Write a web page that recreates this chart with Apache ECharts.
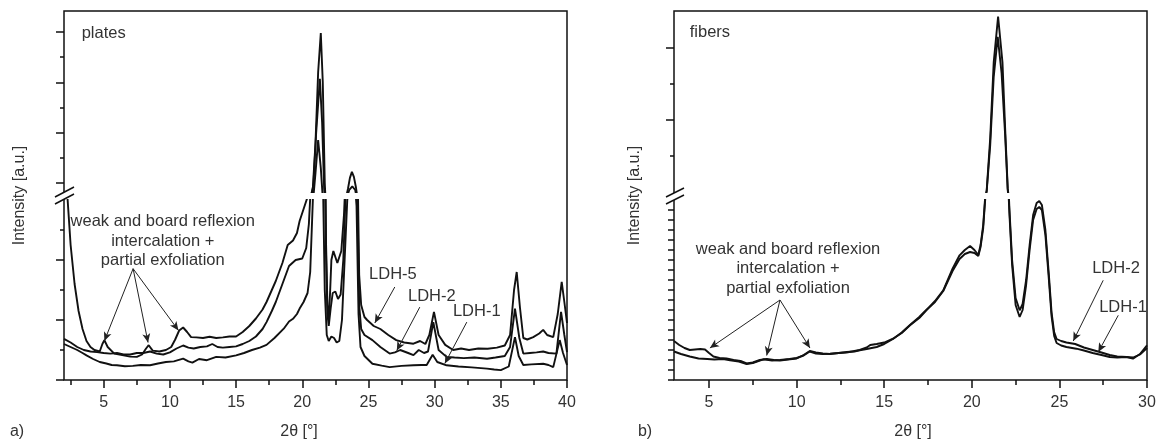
<!DOCTYPE html>
<html>
<head>
<meta charset="utf-8">
<script src="https://cdn.jsdelivr.net/npm/echarts@6/dist/echarts.min.js"></script>
<style>
html, body { margin: 0; padding: 0; background: #fff; }
#main { width: 1160px; height: 444px; }
</style>
</head>
<body>
<div id="main"></div>
<script>
// ---- data: [2theta, intensity] ----
// plates: lower part of the broken axis 0..6, upper part 8.2..44.2
var platesLdh5 = [[2.0, 7.5], [2.2, 6.5], [2.5, 4.5], [2.8, 3.2], [3.1, 2.3], [3.4, 1.7], [3.7, 1.3], [4.0, 1.1], [4.3, 1.0], [4.7, 0.95],
  [4.9, 1.2], [5.05, 1.33], [5.3, 1.1], [5.8, 0.88], [6.5, 0.82], [7.0, 0.78], [7.5, 0.77], [7.9, 0.85], [8.2, 1.05], [8.4, 1.16],
  [8.7, 0.98], [9.2, 0.95], [9.7, 1.0], [10.1, 1.1], [10.4, 1.35], [10.7, 1.65], [11.0, 1.75], [11.3, 1.6], [11.6, 1.43], [12.0, 1.42],
  [12.5, 1.4], [13.0, 1.44], [13.5, 1.4], [14.0, 1.42], [14.5, 1.45], [15.0, 1.45], [15.5, 1.6], [16.0, 1.8], [16.5, 2.05], [17.0, 2.35],
  [17.3, 2.6], [17.7, 3.0], [18.0, 3.3], [18.5, 3.9], [18.9, 4.5], [19.3, 4.65], [19.6, 4.9], [19.8, 5.3], [20.1, 5.7], [20.4, 6.1],
  [20.6, 7.0], [20.8, 9.0], [21.0, 18], [21.2, 32], [21.4, 39.8], [21.55, 30], [21.7, 10], [21.8, 4.5], [21.9, 2.5], [22.0, 2.0],
  [22.1, 2.9], [22.2, 4.0], [22.35, 4.3], [22.5, 4.25], [22.65, 3.9], [22.8, 3.95], [22.95, 4.3], [23.15, 5.5], [23.3, 7.0], [23.45, 8.8],
  [23.6, 11.0], [23.75, 12.2], [23.9, 11.2], [24.05, 9.2], [24.2, 6.5], [24.3, 3.5], [24.45, 2.5], [24.7, 2.1], [24.9, 2.0], [25.4, 1.8],
  [25.9, 1.7], [26.5, 1.5], [27.1, 1.33], [27.7, 1.25], [28.4, 1.21], [28.9, 1.3], [29.3, 1.2], [29.6, 1.5], [29.95, 2.27], [30.3, 1.5],
  [30.8, 1.17], [31.4, 1.0], [32.0, 1.05], [32.6, 1.0], [33.3, 1.05], [34.0, 1.04], [34.7, 1.08], [35.3, 1.15], [35.7, 1.5], [36.0, 3.0],
  [36.2, 3.6], [36.45, 2.4], [36.7, 1.4], [37.0, 1.35], [37.45, 1.43], [37.9, 1.55], [38.2, 1.67], [38.5, 1.5], [38.96, 1.43], [39.3, 2.2],
  [39.6, 3.27], [39.8, 2.6], [40.0, 1.9]];
var platesLdh2 = [[2.0, 1.37], [2.5, 1.25], [3.0, 1.1], [3.5, 1.0], [4.0, 0.95], [4.5, 0.93], [5.0, 0.9], [5.5, 0.88], [6.0, 0.9], [6.5, 0.85],
  [7.0, 0.85], [7.5, 0.9], [8.0, 0.9], [8.5, 0.95], [9.0, 0.88], [9.5, 0.85], [10.0, 0.92], [10.5, 1.05], [11.0, 1.15], [11.4, 1.08],
  [11.8, 1.05], [12.3, 1.1], [12.8, 1.12], [13.2, 1.2], [13.6, 1.1], [14.0, 1.08], [14.5, 1.1], [15.0, 1.12], [15.5, 1.2], [16.0, 1.3],
  [16.5, 1.45], [17.0, 1.7], [17.3, 1.93], [17.7, 2.3], [18.0, 2.6], [18.5, 3.2], [19.0, 3.8], [19.5, 4.0], [20.0, 4.05], [20.3, 4.4],
  [20.5, 5.2], [20.65, 6.5], [20.85, 10], [21.05, 20], [21.33, 30.7], [21.5, 22], [21.65, 9], [21.78, 4.5], [21.9, 2.2], [22.0, 1.8],
  [22.15, 2.4], [22.3, 2.9], [22.5, 2.95], [22.7, 2.7], [22.9, 2.85], [23.1, 4.0], [23.3, 6.5], [23.55, 8.6], [23.78, 9.3], [24.0, 8.6],
  [24.15, 6.5], [24.3, 2.5], [24.45, 1.7], [24.7, 1.5], [25.3, 1.33], [25.9, 1.1], [26.6, 0.88], [27.0, 0.92], [27.4, 1.0], [28.0, 0.9],
  [28.4, 0.83], [28.8, 1.0], [29.2, 0.9], [29.5, 0.95], [29.9, 1.93], [30.3, 1.0], [30.9, 0.77], [31.5, 0.75], [32.2, 0.73], [33.0, 0.75],
  [33.96, 0.71], [34.6, 0.75], [35.3, 0.8], [35.7, 1.1], [36.07, 2.38], [36.4, 1.4], [36.7, 0.88], [37.2, 0.9], [37.7, 0.92], [38.2, 0.95],
  [38.6, 0.9], [39.2, 0.88], [39.55, 2.27], [39.8, 1.5], [40.0, 0.93]];
var platesLdh1 = [[2.0, 1.2], [2.5, 1.1], [3.0, 1.0], [3.4, 0.9], [3.7, 0.82], [4.2, 0.7], [4.7, 0.6], [5.2, 0.55], [5.6, 0.5], [6.0, 0.49],
  [6.6, 0.46], [7.2, 0.47], [7.8, 0.5], [8.5, 0.49], [9.1, 0.55], [9.7, 0.6], [10.3, 0.62], [11.0, 0.71], [11.4, 0.62], [11.7, 0.58],
  [12.2, 0.7], [12.8, 0.66], [13.5, 0.77], [14.2, 0.75], [15.0, 0.82], [15.6, 0.9], [16.2, 1.0], [16.8, 1.08], [17.3, 1.17], [17.9, 1.4],
  [18.6, 1.71], [19.0, 1.95], [19.3, 2.04], [19.6, 2.2], [19.8, 2.38], [20.1, 2.6], [20.4, 2.9], [20.6, 3.6], [20.8, 6.0], [21.0, 12],
  [21.2, 18.5], [21.4, 13], [21.55, 7.0], [21.7, 3.0], [21.85, 1.5], [22.0, 1.3], [22.2, 1.45], [22.4, 1.4], [22.6, 1.25], [22.8, 1.3],
  [23.0, 2.0], [23.2, 4.0], [23.4, 6.0], [23.7, 7.2], [23.9, 7.0], [24.1, 5.8], [24.25, 2.2], [24.4, 1.1], [24.7, 0.8], [25.3, 0.54],
  [26.0, 0.48], [26.6, 0.43], [27.5, 0.47], [28.4, 0.49], [29.0, 0.5], [29.4, 0.5], [29.85, 0.84], [30.2, 0.6], [30.9, 0.49], [31.8, 0.45],
  [32.8, 0.42], [33.96, 0.38], [34.5, 0.35], [35.0, 0.33], [35.6, 0.45], [36.07, 1.43], [36.35, 0.8], [36.7, 0.5], [37.3, 0.52], [38.2, 0.54],
  [38.6, 0.5], [38.96, 0.43], [39.45, 1.33], [39.7, 0.9], [40.0, 0.5]];

// fibers: lower part 0..18, upper part 20..70.3
var fibersLdh2 = [[3.0, 3.9], [3.3, 3.5], [3.6, 3.2], [3.9, 3.0], [4.2, 3.05], [4.5, 3.1], [4.77, 3.05], [5.0, 2.7], [5.25, 2.35], [5.6, 2.2],
  [6.0, 2.15], [6.4, 2.0], [6.8, 1.9], [7.15, 1.65], [7.5, 1.75], [7.9, 2.0], [8.3, 2.1], [8.7, 2.0], [9.05, 1.95], [9.5, 2.05],
  [10.0, 2.15], [10.4, 2.5], [10.75, 2.9], [11.1, 2.75], [11.5, 2.65], [11.9, 2.6], [12.4, 2.7], [12.85, 2.75], [13.3, 2.9], [13.6, 3.0],
  [14.0, 3.25], [14.2, 3.5], [14.57, 3.6], [15.0, 3.75], [15.5, 4.13], [16.0, 4.7], [16.47, 5.47], [17.0, 6.2], [17.4, 6.97], [17.9, 7.9],
  [18.37, 8.97], [18.9, 11.13], [19.3, 12.47], [19.6, 13.0], [19.9, 13.4], [20.15, 13.0], [20.37, 12.5], [20.5, 13.5], [20.65, 15.5], [20.85, 20.5],
  [21.05, 35], [21.25, 56], [21.5, 68.7], [21.75, 56], [21.9, 38], [22.05, 21], [22.15, 17], [22.3, 12], [22.5, 8.2], [22.73, 6.97],
  [22.9, 7.6], [23.1, 10.0], [23.3, 13.5], [23.5, 16.5], [23.7, 17.7], [23.85, 17.9], [24.0, 17.5], [24.2, 15.0], [24.4, 10.5], [24.55, 6.8],
  [24.7, 4.8], [24.84, 4.1], [25.1, 3.9], [25.4, 3.75], [25.9, 3.6], [26.4, 3.25], [26.9, 3.0], [27.4, 2.75], [27.87, 2.5], [28.3, 2.35],
  [28.83, 2.3], [29.2, 2.25], [29.6, 2.55], [30.0, 3.2]];
var fibersLdh1 = [[3.0, 2.85], [3.4, 2.6], [3.9, 2.35], [4.4, 2.15], [4.9, 2.1], [5.3, 2.05], [5.8, 2.1], [6.2, 1.97], [6.7, 1.85], [7.15, 1.6],
  [7.5, 1.7], [8.1, 2.07], [8.6, 1.95], [9.05, 2.0], [9.6, 2.1], [10.0, 2.2], [10.4, 2.45], [10.75, 2.85], [11.1, 2.65], [11.5, 2.6],
  [11.9, 2.63], [12.4, 2.7], [12.85, 2.8], [13.3, 2.85], [13.6, 2.97], [14.0, 3.1], [14.57, 3.3], [15.0, 3.6], [15.5, 4.1], [16.0, 4.75],
  [16.47, 5.5], [17.0, 6.3], [17.4, 7.0], [17.9, 7.8], [18.37, 8.9], [18.9, 10.9], [19.3, 12.1], [19.6, 12.6], [19.9, 12.8], [20.15, 12.7],
  [20.37, 12.4], [20.5, 13.3], [20.65, 15.2], [20.85, 20.2], [21.05, 33], [21.25, 52], [21.48, 63.1], [21.7, 53], [21.9, 36], [22.05, 20.5],
  [22.15, 16.5], [22.3, 11.5], [22.5, 7.5], [22.73, 6.3], [22.9, 7.0], [23.1, 9.5], [23.3, 13.0], [23.5, 16.0], [23.7, 17.1], [23.85, 17.3],
  [24.0, 17.0], [24.2, 14.5], [24.4, 10.0], [24.55, 6.4], [24.7, 4.4], [24.84, 3.7], [25.1, 3.45], [25.4, 3.3], [25.97, 3.13], [26.4, 2.95],
  [26.9, 2.7], [27.4, 2.5], [27.87, 2.3], [28.3, 2.25], [28.83, 2.3], [29.2, 2.13], [29.6, 2.6], [30.0, 3.47]];

// tick values
var platesXMajor = [5, 10, 15, 20, 25, 30, 35, 40];
var platesXMinor = [2.5, 7.5, 12.5, 17.5, 22.5, 27.5, 32.5, 37.5];
var fibersXMajor = [5, 10, 15, 20, 25, 30];
var fibersXMinor = [7.5, 12.5, 17.5, 22.5, 27.5];
var platesUpMajor = [10, 20, 30, 40], platesUpMinor = [15, 25, 35];
var platesLowMajor = [0, 2, 4], platesLowMinor = [1, 3, 5];
var fibersUpMajor = [40, 60], fibersUpMinor = [30, 50];
var fibersLowTicks = [0, 1, 2, 3, 4, 5, 6, 7, 8, 9, 10, 11, 12, 13, 14, 15, 16, 17];

var font = 'Liberation Sans';
var ink = '#111';
var txt = '#333';

var chart = echarts.init(document.getElementById('main'));

function plainAxis(grid, min, max) {
  return { type: 'value', gridIndex: grid, min: min, max: max, show: false, splitLine: { show: false } };
}
function tickAxis(grid, min, max, pos, ticks, len, labels) {
  return {
    type: 'value', gridIndex: grid, min: min, max: max, position: pos,
    axisLine: { show: false, onZero: false },
    axisTick: { show: true, customValues: ticks, length: len, lineStyle: { color: ink, width: 1.5 } },
    axisLabel: labels ? { show: true, customValues: labels, margin: 15, fontSize: 16, color: txt, fontFamily: font } : { show: false },
    splitLine: { show: false }
  };
}
function nameAxis(grid, gap) {
  return {
    type: 'value', gridIndex: grid, min: 0, max: 1, position: 'left',
    axisLine: { show: false }, axisTick: { show: false }, axisLabel: { show: false }, splitLine: { show: false },
    name: 'Intensity [a.u.]', nameLocation: 'middle', nameGap: gap,
    nameTextStyle: { fontSize: 16, color: txt, fontFamily: font }
  };
}
function curve(data, xi, yi) {
  return {
    type: 'line', data: data, xAxisIndex: xi, yAxisIndex: yi, symbol: 'none', clip: true,
    silent: true, animation: false, lineStyle: { color: ink, width: 1.9 }
  };
}
function arrows(pairs) {
  return {
    silent: true, animation: false, symbol: ['none', 'arrow'], symbolSize: [6, 9],
    lineStyle: { color: '#222', width: 1, type: 'solid' }, label: { show: false },
    data: pairs.map(function (p) { return [{ coord: p[0] }, { coord: p[1] }]; })
  };
}
function texts(items) {
  return {
    silent: true, animation: false, symbol: 'circle', symbolSize: 0,
    itemStyle: { color: 'transparent' },
    label: { show: true, position: 'inside', color: txt, fontSize: 16.5, fontFamily: font, lineHeight: 19.5, align: 'center' },
    data: items.map(function (t) { return { coord: t[0], label: { formatter: t[1] } }; })
  };
}

var lowA = [curve(platesLdh5, 2, 3), curve(platesLdh2, 2, 3), curve(platesLdh1, 2, 3)];
lowA[2].markLine = arrows([
  [[7.22, 3.71], [5.05, 1.3]], [[7.22, 3.71], [8.35, 1.25]], [[7.22, 3.71], [10.65, 1.65]],
  [[26.99, 3.1], [25.48, 1.9]], [[28.88, 2.43], [27.14, 0.98]], [[32.43, 1.93], [30.77, 0.55]]
]);
lowA[2].markPoint = texts([
  [[9.46, 4.63], 'weak and board reflexion\nintercalation +\npartial exfoliation'],
  [[26.85, 3.53], 'LDH-5'], [[29.79, 2.8], 'LDH-2'], [[33.18, 2.27], 'LDH-1']
]);
var upA = [curve(platesLdh5, 1, 1), curve(platesLdh2, 1, 1), curve(platesLdh1, 1, 1)];
upA[0].markPoint = texts([[[5.0, 39.8], 'plates']]);

var lowB = [curve(fibersLdh2, 6, 8), curve(fibersLdh1, 6, 8)];
lowB[1].markLine = arrows([
  [[9.05, 8.0], [5.05, 3.2]], [[9.05, 8.0], [8.29, 2.45]], [[9.05, 8.0], [10.76, 3.2]],
  [[27.5, 9.97], [25.79, 3.9]], [[28.36, 6.47], [27.22, 2.8]]
]);
lowB[1].markPoint = texts([
  [[9.51, 11.13], 'weak and board reflexion\nintercalation +\npartial exfoliation'],
  [[28.23, 11.13], 'LDH-2'], [[28.63, 7.3], 'LDH-1']
]);
var upB = [curve(fibersLdh2, 5, 6), curve(fibersLdh1, 5, 6)];
upB[0].markPoint = texts([[[5.05, 64.4], 'fibers']]);

function breakMark(x1, y1, x2, y2, dy) {
  return [
    { type: 'polygon', z: 100, shape: { points: [[x1, y1], [x2, y2], [x2, y2 + dy], [x1, y1 + dy]] }, style: { fill: '#fff' } },
    { type: 'line', z: 101, shape: { x1: x1, y1: y1, x2: x2, y2: y2 }, style: { stroke: ink, lineWidth: 1.5 } },
    { type: 'line', z: 101, shape: { x1: x1, y1: y1 + dy, x2: x2, y2: y2 + dy }, style: { stroke: ink, lineWidth: 1.5 } }
  ];
}
function label(x, y, s) {
  return { type: 'text', z: 100, x: x, y: y, style: { text: s, fontSize: 16, fontFamily: font, fill: txt, align: 'center', verticalAlign: 'middle' } };
}

var option = {
  animation: false,
  backgroundColor: '#fff',
  grid: [
    { left: 64, top: 11, width: 503, height: 369, show: true, borderColor: ink, borderWidth: 1.5 },
    { left: 64, top: 11, width: 503, height: 181 },
    { left: 64, top: 200, width: 503, height: 180 },
    { left: 674, top: 11, width: 473, height: 369, show: true, borderColor: ink, borderWidth: 1.5 },
    { left: 674, top: 11, width: 473, height: 181 },
    { left: 674, top: 200, width: 473, height: 180 }
  ],
  xAxis: [
    plainAxis(0, 2, 40),
    plainAxis(1, 2, 40),
    tickAxis(2, 2, 40, 'bottom', platesXMajor, 8, platesXMajor),
    tickAxis(2, 2, 40, 'bottom', platesXMinor, 5, null),
    plainAxis(3, 3, 30),
    plainAxis(4, 3, 30),
    tickAxis(5, 3, 30, 'bottom', fibersXMajor, 8, fibersXMajor),
    tickAxis(5, 3, 30, 'bottom', fibersXMinor, 5, null)
  ],
  yAxis: [
    nameAxis(0, 36),
    tickAxis(1, 8.2, 44.18, 'left', platesUpMajor, 8, null),
    tickAxis(1, 8.2, 44.18, 'left', platesUpMinor, 4, null),
    tickAxis(2, 0, 6, 'left', platesLowMajor, 8, null),
    tickAxis(2, 0, 6, 'left', platesLowMinor, 4, null),
    nameAxis(3, 31),
    tickAxis(4, 20, 70.28, 'left', fibersUpMajor, 8, null),
    tickAxis(4, 20, 70.28, 'left', fibersUpMinor, 4, null),
    tickAxis(5, 0, 18, 'left', fibersLowTicks, 6, null)
  ],
  series: upA.concat(lowA, upB, lowB),
  graphic: [].concat(
    breakMark(55, 197, 74, 187, 7),
    breakMark(666, 197, 684, 188, 7),
    [label(17, 432, 'a)'), label(299, 432, '2θ [°]'), label(645, 432, 'b)'), label(913, 432, '2θ [°]')]
  )
};

chart.setOption(option);
</script>
</body>
</html>
